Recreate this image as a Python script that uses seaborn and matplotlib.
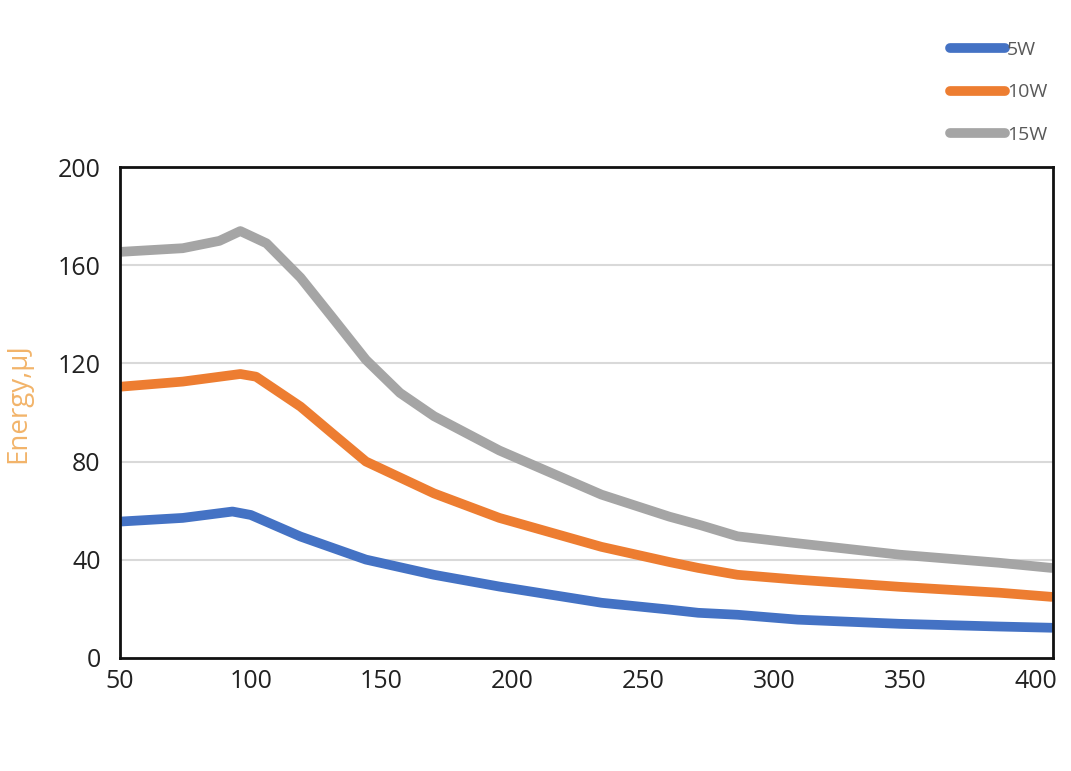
import matplotlib
matplotlib.use("Agg")
import matplotlib.pyplot as plt
import seaborn as sns
import pandas as pd

# frequency (kHz) vs single pulse energy (uJ)
freq_5w = [50, 74, 93, 100, 119, 144, 170, 195, 234, 260, 271, 286, 309, 348, 386, 406]
energy_5w = [55.5, 57, 59.6, 58.2, 49.4, 40, 33.8, 29, 22.4, 19.6, 18.3, 17.5, 15.5, 13.8, 12.7, 12.2]

freq_10w = [50, 74, 96, 102, 119, 131, 144, 170, 195, 234, 260, 271, 286, 309, 348, 386, 406]
energy_10w = [110.5, 112.6, 115.7, 114.6, 102.4, 91.6, 80, 67, 57, 45.2, 39, 36.6, 33.8, 31.8, 28.9, 26.5, 24.8]

freq_15w = [50, 74, 88, 96, 106, 119, 131, 144, 157, 170, 195, 234, 260, 272, 286, 306, 348, 386, 406]
energy_15w = [165.5, 167, 170, 174, 169, 155, 139, 121.5, 108, 98.5, 84.5, 66.5, 57.5, 54, 49.5, 47, 42, 38.7, 36.6]

series = ["5W", "10W", "15W"]
colors = ["#4472C4", "#ED7D31", "#A5A5A5"]

frames = []
for name, xs, ys in zip(series, [freq_5w, freq_10w, freq_15w], [energy_5w, energy_10w, energy_15w]):
    frames.append(pd.DataFrame({"freq": xs, "energy": ys, "power": name}))
df = pd.concat(frames, ignore_index=True)

sns.set_style("white")
plt.rcParams["font.family"] = ["Open Sans", "DejaVu Sans"]

fig = plt.figure(figsize=(10.71, 7.71), dpi=100)
ax = fig.add_axes([0.112, 0.147, 0.871, 0.636])

sns.lineplot(data=df, x="freq", y="energy", hue="power", hue_order=series,
             palette=colors, linewidth=7, ax=ax, legend=False,
             solid_capstyle="round", solid_joinstyle="round", sort=False)

ax.set_xlim(50, 406.5)
ax.set_ylim(0, 200)
ax.set_xticks([50, 100, 150, 200, 250, 300, 350, 400])
ax.set_yticks([0, 40, 80, 120, 160, 200])
ax.tick_params(axis="both", labelsize=18, labelcolor="#222222", length=0)
ax.tick_params(axis="y", pad=14)
ax.tick_params(axis="x", pad=8)
for g in [40, 80, 120, 160]:
    ax.axhline(g, color="#D9D9D9", linewidth=1.5, zorder=0)
for s in ax.spines.values():
    s.set_color("#111111")
    s.set_linewidth(2)
ax.set_xlabel("")
ax.set_ylabel("Energy,μJ", fontsize=20, color="#F2B46A")
ax.yaxis.set_label_coords(-0.094, 0.52)

handles = [plt.Line2D([], [], color=c, linewidth=7, solid_capstyle="round") for c in colors]
fig.legend(handles, series, loc="upper right", bbox_to_anchor=(0.994, 0.9695),
           frameon=False, fontsize=14, labelcolor="#595959", handlelength=2.8,
           handletextpad=0.1, labelspacing=1.25)

fig.savefig("out.png", dpi=100)
